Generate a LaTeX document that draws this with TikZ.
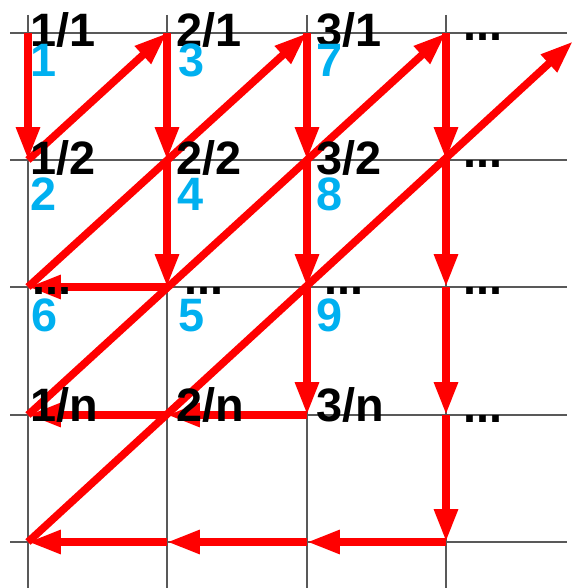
\documentclass[tikz,border=0pt]{standalone}
\usepackage{fontspec}
\setmainfont{Liberation Sans}
\usepackage{tikz}
\usetikzlibrary{arrows.meta}
\definecolor{numblue}{RGB}{0,176,240}

\begin{document}
\begin{tikzpicture}[
  >=Triangle,
  every node/.append style={font=\fontsize{40}{40}\selectfont\bfseries},
  gl/.style={black!65, line width=0.9pt},
  hop/.style={-{Triangle[length=28pt,width=19pt]}, line width=6.5pt, red},
  frac/.style={anchor=base west, inner sep=0pt, black},
  num/.style={anchor=base west, inner sep=0pt, text=numblue},
  more/.style={anchor=base west, inner sep=0pt, black}
]
\useasboundingbox (0,0) rectangle (17.28,17.64);

% Gitterpunkte (Spalte, Zeile)
\coordinate (g11) at (0.84,16.65);
\coordinate (g21) at (5.01,16.65);
\coordinate (g31) at (9.21,16.65);
\coordinate (g41) at (13.38,16.65);
\coordinate (g12) at (0.84,12.84);
\coordinate (g22) at (5.01,12.84);
\coordinate (g32) at (9.21,12.84);
\coordinate (g42) at (13.38,12.84);
\coordinate (g13) at (0.84,9.03);
\coordinate (g23) at (5.01,9.03);
\coordinate (g33) at (9.21,9.03);
\coordinate (g43) at (13.38,9.03);
\coordinate (g14) at (0.84,5.19);
\coordinate (g24) at (5.01,5.19);
\coordinate (g34) at (9.21,5.19);
\coordinate (g44) at (13.38,5.19);
\coordinate (g15) at (0.84,1.38);
\coordinate (g25) at (5.01,1.38);
\coordinate (g35) at (9.21,1.38);
\coordinate (g45) at (13.38,1.38);
\coordinate (far) at (17.19,16.40);

% Gitter
\draw[gl] (0.30,16.65) -- (17.01,16.65);
\draw[gl] (0.30,12.84) -- (17.01,12.84);
\draw[gl] (0.30,9.03) -- (17.01,9.03);
\draw[gl] (0.30,5.19) -- (17.01,5.19);
\draw[gl] (0.30,1.38) -- (17.01,1.38);
\draw[gl] (0.84,17.19) -- (0.84,0);
\draw[gl] (5.01,17.19) -- (5.01,0);
\draw[gl] (9.21,17.19) -- (9.21,0);
\draw[gl] (13.38,17.19) -- (13.38,0);

% Abzaehlweg
\draw[hop] (g11) -- (g12);
\draw[hop] (g12) -- (g21);
\draw[hop] (g21) -- (g22);
\draw[hop] (g22) -- (g23);
\draw[hop] (g23) -- (g13);
\draw[hop] (g13) -- (g31);
\draw[hop] (g31) -- (g32);
\draw[hop] (g32) -- (g33);
\draw[hop] (g33) -- (g34);
\draw[hop] (g34) -- (g24);
\draw[hop] (g24) -- (g14);
\draw[hop] (g14) -- (g41);
\draw[hop] (g41) -- (g42);
\draw[hop] (g42) -- (g43);
\draw[hop] (g43) -- (g44);
\draw[hop] (g44) -- (g45);
\draw[hop] (g45) -- (g35);
\draw[hop] (g35) -- (g25);
\draw[hop] (g25) -- (g15);
\draw[hop] (g15) -- (far);

% Brueche
\node[frac] (q11) at (0.90,16.23) {1/1};
\node[frac] (q21) at (5.28,16.23) {2/1};
\node[frac] (q31) at (9.48,16.23) {3/1};
\node[frac] (q12) at (0.90,12.39) {1/2};
\node[frac] (q22) at (5.28,12.39) {2/2};
\node[frac] (q32) at (9.48,12.39) {3/2};
\node[frac] (q1n) at (0.90,4.98) {1/n};
\node[frac] (q2n) at (5.28,4.98) {2/n};
\node[frac] (q3n) at (9.48,4.98) {3/n};

% Nummern
\node[num] (n1) at (0.90,15.33) {1};
\node[num] (n3) at (5.34,15.33) {3};
\node[num] (n7) at (9.48,15.33) {7};
\node[num] (n2) at (0.90,11.31) {2};
\node[num] (n4) at (5.31,11.31) {4};
\node[num] (n8) at (9.48,11.31) {8};
\node[num] (n6) at (0.93,7.68) {6};
\node[num] (n5) at (5.34,7.68) {5};
\node[num] (n9) at (9.48,7.68) {9};

% Punkte
\node[more] (m41) at (13.89,16.41) {...};
\node[more] (m42) at (13.89,12.60) {...};
\node[more] (m13) at (0.96,8.79) {...};
\node[more] (m23) at (5.52,8.79) {...};
\node[more] (m33) at (9.72,8.79) {...};
\node[more] (m43) at (13.89,8.79) {...};
\node[more] (m44) at (13.89,4.95) {...};
\end{tikzpicture}
\end{document}
